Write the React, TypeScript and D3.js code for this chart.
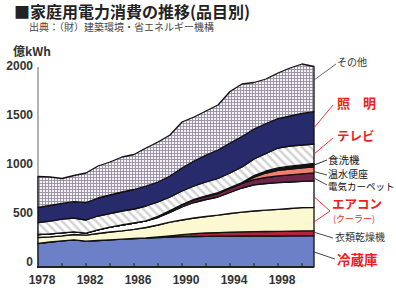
import React from 'react';
import * as d3 from 'd3';

// Household electricity consumption by appliance, 1978–2001 (億kWh)
const years = [1978, 1979, 1980, 1981, 1982, 1983, 1984, 1985, 1986, 1987, 1988, 1989,
  1990, 1991, 1992, 1993, 1994, 1995, 1996, 1997, 1998, 1999, 2000, 2001];

const refrigerator = [235, 250, 262, 272, 258, 265, 272, 278, 285, 290, 295, 300, 303, 305, 307, 308, 309, 310, 310, 310, 310, 311, 312, 313];
const dryer = [0, 0, 0, 0, 0, 0, 0, 0, 0, 0, 5, 12, 20, 28, 33, 36, 40, 42, 44, 45, 46, 48, 49, 50];
const cooler = [60, 52, 50, 53, 60, 70, 78, 84, 92, 105, 120, 136, 147, 157, 165, 174, 186, 196, 206, 213, 221, 226, 232, 234];
const heating = [30, 30, 30, 27, 20, 37, 48, 58, 63, 67, 75, 97, 130, 155, 170, 182, 210, 242, 262, 267, 266, 265, 263, 265];
const carpet = [0, 0, 0, 0, 0, 0, 0, 0, 0, 0, 8, 15, 20, 25, 30, 35, 40, 45, 52, 60, 68, 72, 76, 80];
const toiletSeat = [0, 0, 0, 0, 0, 0, 0, 0, 0, 0, 0, 0, 0, 0, 0, 0, 0, 0, 25, 45, 55, 58, 60, 60];
const dishwasher = [0, 0, 0, 0, 0, 0, 0, 0, 0, 0, 3, 4, 5, 6, 7, 8, 9, 10, 15, 20, 25, 28, 30, 34];
const television = [118, 126, 136, 138, 132, 138, 137, 140, 140, 148, 144, 136, 135, 134, 138, 142, 146, 155, 166, 175, 199, 202, 198, 194];
const lighting = [154, 157, 159, 163, 173, 180, 185, 190, 195, 200, 200, 210, 230, 250, 270, 285, 300, 305, 300, 300, 293, 300, 317, 323];
const others = [308, 285, 248, 262, 297, 320, 330, 350, 350, 380, 400, 410, 460, 440, 440, 450, 515, 525, 465, 445, 457, 480, 493, 452];

const yTickValues = [0, 500, 1000, 1500, 2000];
const xTickLabels = [1978, 1982, 1986, 1990, 1994, 1998];
const xMinorTicks = [1980, 1982, 1984, 1986, 1988, 1990, 1992, 1994, 1996, 1998, 2000];

const seriesDefs = [
  { key: 'refrigerator', values: refrigerator, fill: '#6b80c6' },
  { key: 'dryer', values: dryer, fill: '#b0223e' },
  { key: 'cooler', values: cooler, fill: '#fcf9d2' },
  { key: 'heating', values: heating, fill: '#ffffff' },
  { key: 'carpet', values: carpet, fill: '#70254a' },
  { key: 'toiletSeat', values: toiletSeat, fill: '#f27e6e' },
  { key: 'dishwasher', values: dishwasher, fill: '#151515' },
  { key: 'television', values: television, fill: 'url(#hatch)' },
  { key: 'lighting', values: lighting, fill: '#272b6c' },
  { key: 'others', values: others, fill: 'url(#grid)' },
];

const W = 396;
const H = 302;
const JP = '"Noto Sans CJK JP", "Noto Sans", sans-serif';
const NUM = '"Liberation Sans", Arial, sans-serif';
const RED = '#f21c1c';

export default function App() {
  const x = d3.scaleLinear().domain([1978, 2001]).range([38, 314]);
  const y = d3.scaleLinear().domain([0, 2000]).range([267, 67]);
  const labelY = d3.scaleLinear().domain([0, 2000]).range([261, 65]);

  const rows = years.map((yr, i) => {
    const r: Record<string, number> = { year: yr };
    seriesDefs.forEach((s) => { r[s.key] = s.values[i]; });
    return r;
  });
  const stacked = d3.stack<Record<string, number>>().keys(seriesDefs.map((s) => s.key))(rows);

  const area = d3.area<any>()
    .x((d) => x(d.data.year))
    .y0((d) => y(d[0]))
    .y1((d) => y(d[1]));

  const byKey: Record<string, any> = {};
  stacked.forEach((s) => { byKey[s.key] = s; });
  const last = years.length - 1;
  const xEnd = x(years[last]);
  // point inside a band at the final year, f = 0 bottom .. 1 top
  const anchor = (key: string, f: number) => {
    const d = byKey[key][last];
    return y(d[0] + (d[1] - d[0]) * f);
  };

  const callouts = [
    { key: 'others', f: 0.7, text: 'その他', tx: 337, ty: 66, lx: 336, ly: 64, size: 10, color: '#333', bold: false, line: '#555' },
    { key: 'lighting', f: 0.5, text: '照\u3000明', tx: 337, ty: 108, lx: 333, ly: 105, size: 13, color: RED, bold: true, line: RED },
    { key: 'television', f: 0.48, text: 'テレビ', tx: 337, ty: 141, lx: 333, ly: 138, size: 12.5, color: RED, bold: true, line: RED },
    { key: 'dishwasher', f: 0.5, text: '食洗機', tx: 328, ty: 163.5, lx: 327, ly: 160, size: 10.5, color: '#111', bold: false, line: '#111' },
    { key: 'toiletSeat', f: 0.2, text: '温水便座', tx: 328, ty: 178, lx: 327, ly: 175, size: 10, color: '#111', bold: false, line: '#333' },
    { key: 'carpet', f: 0.35, text: '電気カーペット', tx: 328, ty: 189.5, lx: 327, ly: 185, size: 9.5, color: '#111', bold: false, line: '#333' },
    { key: 'dryer', f: 0.7, text: '衣類乾燥機', tx: 335, ty: 241, lx: 333, ly: 238, size: 10, color: '#333', bold: false, line: '#333' },
    { key: 'refrigerator', f: 0.48, text: '冷蔵庫', tx: 337, ty: 265, lx: 335, ly: 259, size: 13.5, color: RED, bold: true, line: '#333' },
  ];

  const acTop = anchor('heating', 0.4);
  const acBottom = anchor('cooler', 0.37);

  return (
    <svg width={W} height={H} viewBox={`0 0 ${W} ${H}`}
      style={{ position: 'absolute', left: 0, top: 0, background: '#fff' }}>
      <defs>
        <pattern id="grid" width="3" height="3" patternUnits="userSpaceOnUse">
          <rect width="3" height="3" fill="#f4f2f6" />
          <path d="M0 0.5H3M0.5 0V3" stroke="#958fa2" strokeWidth="0.9" />
        </pattern>
        <pattern id="hatch" width="6" height="6" patternUnits="userSpaceOnUse" patternTransform="rotate(-45)">
          <rect width="6" height="6" fill="#ffffff" />
          <line x1="1.5" y1="0" x2="1.5" y2="6" stroke="#cdcdcd" strokeWidth="2.2" />
        </pattern>
      </defs>

      {/* title */}
      <text x={14} y={18} fontSize={16} fontWeight="bold" fontFamily={JP} fill="#222">■家庭用電力消費の推移(品目別)</text>
      <text x={29} y={31} fontSize={10} fontFamily={JP} fill="#444">出典：（財）建築環境・省エネルギー機構</text>
      <text x={13} y={56} fontSize={12} fontWeight="bold" fontFamily={JP} fill="#333">億kWh</text>

      {/* y axis */}
      <line x1={x(1978)} x2={x(1978)} y1={y(2000)} y2={y(0)} stroke="#9a9a9a" strokeWidth={1.5} />
      {yTickValues.map((v) => (
        <text key={v} x={33} y={labelY(v) + 4.5} textAnchor="end" fontSize={12} fontWeight="bold"
          fontFamily={NUM} fill="#333">{v}</text>
      ))}

      {/* stacked areas */}
      {stacked.map((s, i) => (
        <path key={s.key} d={area(s as any) || ''} fill={seriesDefs[i].fill}
          stroke="#111" strokeWidth={1.3} strokeLinejoin="round" />
      ))}

      {/* x axis */}
      <line x1={x(1978) - 1} x2={xEnd} y1={y(0)} y2={y(0)} stroke="#222" strokeWidth={2} />
      {xMinorTicks.map((t) => (
        <line key={t} x1={x(t)} x2={x(t)} y1={y(0)} y2={y(0) - 4} stroke="#222" strokeWidth={1} />
      ))}
      {xTickLabels.map((t) => (
        <text key={t} x={x(t) + 4} y={284} textAnchor="middle" fontSize={12} fontWeight="bold"
          fontFamily={NUM} fill="#333">{t}</text>
      ))}

      {/* callouts */}
      {callouts.map((c) => (
        <g key={c.key}>
          <line x1={xEnd} y1={anchor(c.key, c.f)} x2={c.lx} y2={c.ly} stroke={c.line} strokeWidth={0.9} />
          <text x={c.tx} y={c.ty} fontSize={c.size} fontWeight={c.bold ? 'bold' : 'normal'}
            fontFamily={JP} fill={c.color}>{c.text}</text>
        </g>
      ))}
      <polyline points={`${xEnd},${acTop} 330,211 ${xEnd},${acBottom}`} fill="none" stroke={RED} strokeWidth={0.9} />
      <text x={332} y={209} fontSize={12.5} fontWeight="bold" fontFamily={JP} fill={RED}>エアコン</text>
      <text x={333} y={222} fontSize={9} fontFamily={JP} fill={RED}>(クーラー)</text>
    </svg>
  );
}
